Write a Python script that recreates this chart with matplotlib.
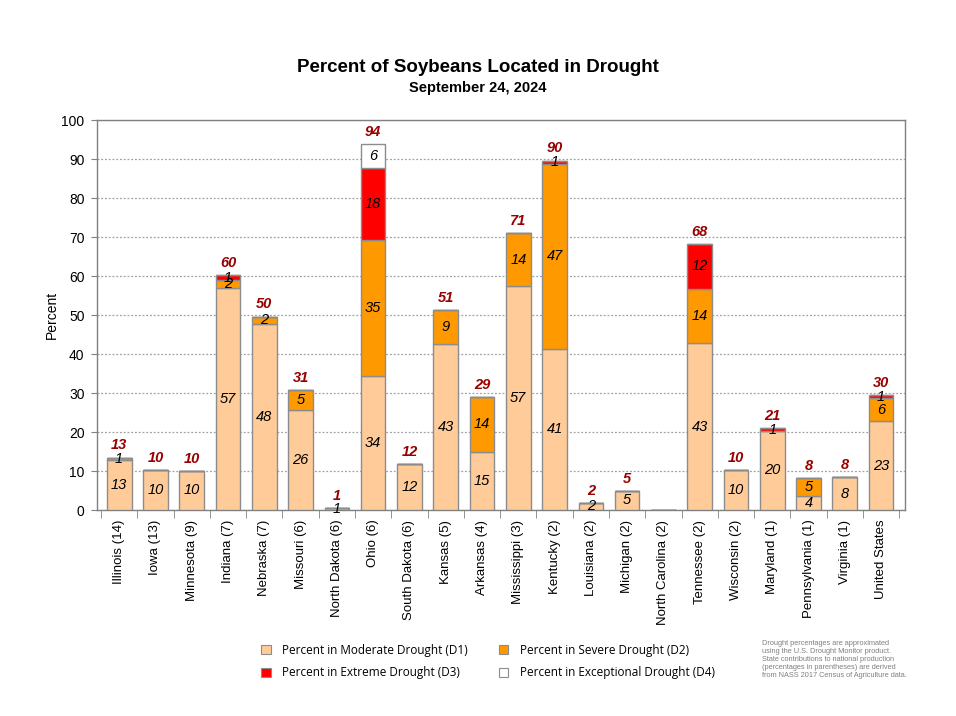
import matplotlib
matplotlib.use("Agg")
import matplotlib.pyplot as plt
from matplotlib.patches import Patch
import numpy as np

categories = ["Illinois (14)", "Iowa (13)", "Minnesota (9)", "Indiana (7)", "Nebraska (7)",
              "Missouri (6)", "North Dakota (6)", "Ohio (6)", "South Dakota (6)", "Kansas (5)",
              "Arkansas (4)", "Mississippi (3)", "Kentucky (2)", "Louisiana (2)", "Michigan (2)",
              "North Carolina (2)", "Tennessee (2)", "Wisconsin (2)", "Maryland (1)",
              "Pennsylvania (1)", "Virginia (1)", "United States"]
d1 = [12.9, 10.3, 10.1, 56.8, 47.8, 25.6, 0.6, 34.4, 11.8, 42.6, 14.9, 57.4, 41.4, 1.8, 4.9,
      0.0, 42.8, 10.2, 20.3, 3.6, 8.4, 22.8]
d2 = [0.55, 0.0, 0.0, 2.2, 1.8, 5.2, 0.0, 34.8, 0.0, 8.6, 14.1, 13.6, 47.4, 0.0, 0.0,
      0.0, 13.9, 0.0, 0.0, 4.7, 0.0, 5.9]
d3 = [0.0, 0.0, 0.0, 1.2, 0.0, 0.0, 0.0, 18.5, 0.0, 0.0, 0.0, 0.0, 0.8, 0.0, 0.0,
      0.0, 11.5, 0.0, 0.6, 0.0, 0.0, 0.8]
d4 = [0.0, 0.0, 0.0, 0.0, 0.0, 0.0, 0.0, 6.1, 0.0, 0.0, 0.0, 0.0, 0.0, 0.0, 0.0,
      0.0, 0.0, 0.0, 0.0, 0.0, 0.0, 0.0]
series_names = ["Percent in Moderate Drought (D1)", "Percent in Severe Drought (D2)",
                "Percent in Extreme Drought (D3)", "Percent in Exceptional Drought (D4)"]
colors = ["#FFCC99", "#FF9900", "#FF0000", "#FFFFFF"]

plt.rcParams['font.family'] = ['Liberation Sans', 'DejaVu Sans']
fig = plt.figure(figsize=(9.56, 7.16), dpi=100)
ax = fig.add_axes([0.1015, 0.2877, 0.8452, 0.5447])

x = np.arange(len(categories))
series = [np.array(d1), np.array(d2), np.array(d3), np.array(d4)]
bottom = np.zeros(len(categories))
w = 0.68
for s, c in zip(series, colors):
    ax.bar(x, s, w, bottom=bottom, color=c, edgecolor="#8C8C8C", linewidth=1.0, zorder=3)
    for i, v in enumerate(s):
        if v >= 0.5:
            ax.text(x[i], bottom[i] + v / 2, f"{int(round(v))}", ha="center", va="center",
                    fontsize=10.5, style="italic", color="black", zorder=5)
    bottom = bottom + s

total = bottom
for i, t in enumerate(total):
    if t >= 0.5:
        ax.text(x[i], t + 1.3, f"{int(round(t))}", ha="center", va="bottom",
                fontsize=10.5, style="italic", fontweight="bold", color="#990000", zorder=5)

ax.set_ylim(0, 100)
ax.set_xlim(-0.61, 21.66)
ax.set_yticks(range(0, 101, 10))
ax.tick_params(axis="y", labelsize=10, direction="out", length=4, color="#808080", pad=5)
ax.yaxis.grid(True, linestyle=(0, (1.5, 1.5)), color="#A0A0A0", linewidth=0.9, zorder=0)
ax.set_ylabel("Percent", fontsize=10, labelpad=2)

ax.set_xticks(x)
ax.set_xticklabels(categories, rotation=90, fontsize=9.5)
ax.tick_params(axis="x", length=0, pad=7)
ax.set_xticks(np.arange(-0.5, len(categories), 1.0), minor=True)
ax.tick_params(axis="x", which="minor", length=6, color="#808080", direction="out")
for sp in ax.spines.values():
    sp.set_color("#808080")
    sp.set_linewidth(1.0)

fig.text(0.5, 0.906, "Percent of Soybeans Located in Drought", ha="center", va="center",
         fontsize=13.5, fontweight="bold")
fig.text(0.5, 0.877, "September 24, 2024", ha="center", va="center",
         fontsize=10.5, fontweight="bold")

handles = [Patch(facecolor=c, edgecolor="#8C8C8C", linewidth=0.8) for c in colors]
order = [0, 2, 1, 3]
leg = fig.legend([handles[i] for i in order], [series_names[i] for i in order],
                 loc="center left", bbox_to_anchor=(0.262, 0.076), ncol=2, frameon=False,
                 prop={"family": "Open Sans", "size": 8.5}, handlelength=0.8, handleheight=0.8,
                 columnspacing=2.6, labelspacing=0.8, handletextpad=1.0)

note = ("Drought percentages are approximated\nusing the U.S. Drought Monitor product.\n"
        "State contributions to national production\n(percentages in parentheses) are derived\n"
        "from NASS 2017 Census of Agriculture data.")
fig.text(0.797, 0.106, note, ha="left", va="top", fontsize=5.3, color="#808080",
         linespacing=1.2)

fig.savefig("out.png", dpi=100)
